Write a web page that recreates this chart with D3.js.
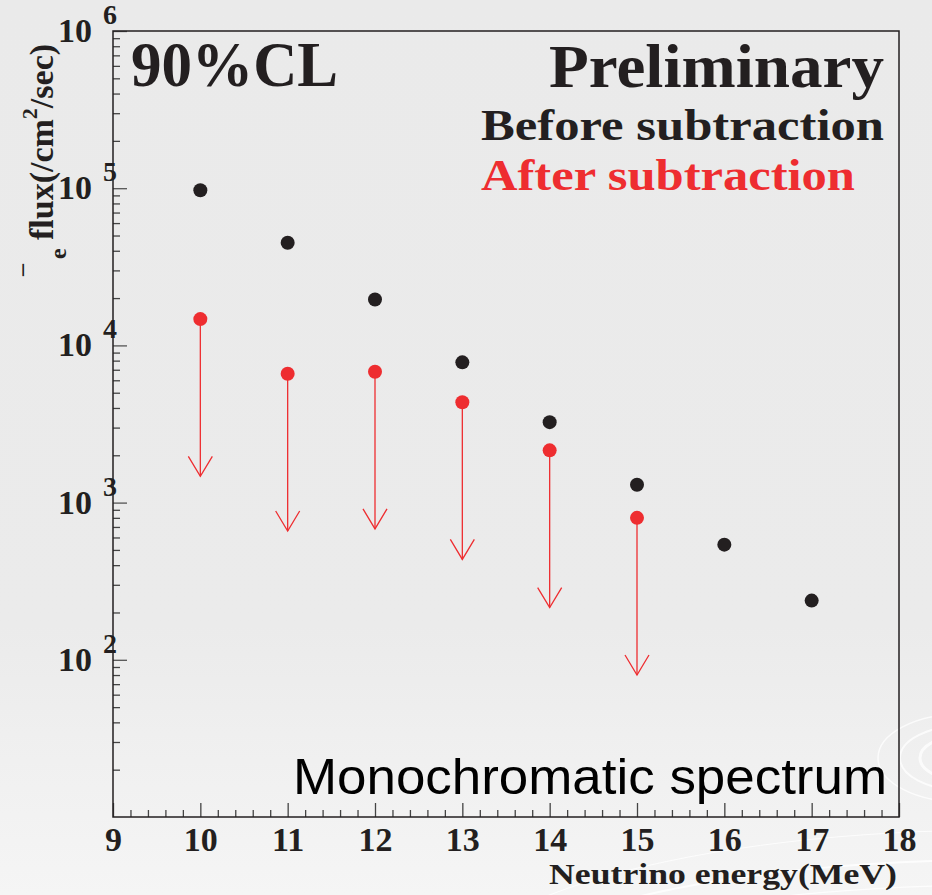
<!DOCTYPE html>
<html>
<head>
<meta charset="utf-8">
<script src="https://cdn.jsdelivr.net/npm/d3@7"></script>
<style>
  body { margin: 0; background: #ebebeb; }
  svg { display: block; }
</style>
</head>
<body>
<svg id="plot" width="932" height="895"></svg>
<script>
// energies of the monochromatic lines (MeV)
const energies = [10, 11, 12, 13, 14, 15, 16, 17];
// 90% CL flux limits before background subtraction
const before_flux = [9.7e4, 4.5e4, 1.96e4, 7.8e3, 3.25e3, 1.3e3, 540, 238];
// after subtraction (only 10..15 MeV), drawn as upper limits
const after_energies = [10, 11, 12, 13, 14, 15];
const after_flux = [1.47e4, 6.6e3, 6.8e3, 4.35e3, 2.15e3, 800];

const x_ticks = d3.range(9, 19);
const y_decades = [1e2, 1e3, 1e4, 1e5, 1e6];

const serif = "'Liberation Serif', 'Times New Roman', serif";
const sans = "'Liberation Sans', Arial, sans-serif";
const ink = "#231f20";
const red = "#ee2d30";

const svg = d3.select("#plot");
const W = 932, H = 895;
const frame = {left: 113, right: 899, top: 31, bottom: 817};

// background with a soft gradient
const defs = svg.append("defs");
const bg_grad = defs.append("linearGradient")
	.attr("id", "bg-grad")
	.attr("x1", "0%").attr("y1", "0%")
	.attr("x2", "0%").attr("y2", "100%");
bg_grad.append("stop").attr("offset", "0%").attr("stop-color", "#eaeaea");
bg_grad.append("stop").attr("offset", "70%").attr("stop-color", "#ebebeb");
bg_grad.append("stop").attr("offset", "100%").attr("stop-color", "#f5f5f5");
svg.append("rect").attr("width", W).attr("height", H).attr("fill", "url(#bg-grad)");

// faint swirl decoration in the corner
const swirl = svg.append("g").attr("fill", "none").attr("stroke", "#ffffff");
[[22, 12, 5], [42, 22, 3], [62, 32, 2], [84, 44, 1.5]].forEach(d => {
	swirl.append("ellipse")
		.attr("cx", 962).attr("cy", 758)
		.attr("rx", d[0]).attr("ry", d[1])
		.attr("stroke-width", d[2]).attr("opacity", 0.75);
});
[[520, 130, 2], [480, 105, 1.2], [560, 160, 1]].forEach(d => {
	swirl.append("ellipse")
		.attr("cx", 1000).attr("cy", 990)
		.attr("rx", d[0]).attr("ry", d[1])
		.attr("stroke-width", d[2]).attr("opacity", 0.8);
});

const x = d3.scaleLinear().domain([9, 18]).range([frame.left, frame.right]);
const y = d3.scaleLog().domain([10, 1e6]).range([frame.bottom, frame.top]);

// x axis ticks (inward)
const x_minor = d3.range(9, 18.001, 0.2).map(v => Math.round(v * 10) / 10)
	.filter(v => Math.abs(v - Math.round(v)) > 1e-6);

svg.append("g")
	.attr("transform", `translate(0,${frame.bottom})`)
	.call(d3.axisBottom(x).tickValues(x_minor).tickSizeInner(-7).tickSizeOuter(0).tickFormat(""))
	.call(g => g.select(".domain").remove())
	.call(g => g.selectAll("line").attr("stroke", "#444").attr("stroke-width", 1.3));

svg.append("g")
	.attr("transform", `translate(0,${frame.bottom})`)
	.call(d3.axisBottom(x).tickValues(x_ticks).tickSizeInner(-14).tickSizeOuter(0).tickPadding(10))
	.call(g => g.select(".domain").remove())
	.call(g => g.selectAll("line").attr("stroke", "#444").attr("stroke-width", 1.3))
	.call(g => g.selectAll("text")
		.attr("fill", ink)
		.style("font-family", serif)
		.style("font-weight", "bold")
		.style("font-size", "34px"));

// y axis ticks (inward)
const y_minor = [];
for (let d = 1; d <= 5; d++)
	for (let k = 2; k <= 9; k++) y_minor.push(k * Math.pow(10, d));

svg.append("g")
	.attr("transform", `translate(${frame.left},0)`)
	.call(d3.axisLeft(y).tickValues(y_minor).tickSizeInner(-7).tickSizeOuter(0).tickFormat(""))
	.call(g => g.select(".domain").remove())
	.call(g => g.selectAll("line").attr("stroke", "#444").attr("stroke-width", 1.3));

svg.append("g")
	.attr("transform", `translate(${frame.left},0)`)
	.call(d3.axisLeft(y).tickValues(y_decades).tickSizeInner(-14).tickSizeOuter(0).tickFormat(""))
	.call(g => g.select(".domain").remove())
	.call(g => g.selectAll("line").attr("stroke", "#555").attr("stroke-width", 1.3));

// y tick labels as 10^n
const y_labels = svg.append("g")
	.attr("fill", ink)
	.style("font-family", serif)
	.style("font-weight", "bold");

y_labels.selectAll("text.base")
	.data(y_decades)
	.join("text")
	.attr("class", "base")
	.attr("x", 92)
	.attr("y", d => y(d) + 11)
	.attr("text-anchor", "end")
	.style("font-size", "34px")
	.text("10");

y_labels.selectAll("text.exp")
	.data(y_decades)
	.join("text")
	.attr("class", "exp")
	.attr("x", 103)
	.attr("y", d => y(d) - 7)
	.style("font-size", "28px")
	.text(d => Math.round(Math.log10(d)));

// frame
svg.append("rect")
	.attr("x", frame.left).attr("y", frame.top)
	.attr("width", frame.right - frame.left)
	.attr("height", frame.bottom - frame.top)
	.attr("fill", "none")
	.attr("stroke", ink)
	.attr("stroke-width", 1.5);

// y axis title (rotated)
const ytitle = svg.append("g")
	.attr("fill", ink)
	.style("font-family", serif)
	.style("font-weight", "bold");

ytitle.append("text")
	.attr("transform", "translate(29,276) rotate(-90)")
	.style("font-size", "24px")
	.text("\u2013");

ytitle.append("text")
	.attr("transform", "translate(66,259) rotate(-90)")
	.style("font-size", "24px")
	.text("e");

const ytext = ytitle.append("text")
	.attr("transform", "translate(53,240) rotate(-90)")
	.style("font-size", "34px");
ytext.append("tspan").text("flux(/cm");
ytext.append("tspan").attr("dy", -16).style("font-size", "22px").text("2");
ytext.append("tspan").attr("dy", 16).text("/sec)");

// upper-limit arrows for "after subtraction"
const after = after_energies.map((e, i) => ({e: e, v: after_flux[i]}));
const arrows = svg.append("g")
	.attr("stroke", red)
	.attr("stroke-width", 1.3)
	.attr("fill", "none");

arrows.selectAll("line")
	.data(after)
	.join("line")
	.attr("x1", d => x(d.e)).attr("x2", d => x(d.e))
	.attr("y1", d => y(d.v)).attr("y2", d => y(d.v / 10));

arrows.selectAll("path")
	.data(after)
	.join("path")
	.attr("d", d => {
		const tx = x(d.e), ty = y(d.v / 10);
		return `M${tx - 12},${ty - 20}L${tx},${ty}L${tx + 12},${ty - 20}`;
	});

// points
svg.append("g")
	.selectAll("circle")
	.data(energies.map((e, i) => ({e: e, v: before_flux[i]})))
	.join("circle")
	.attr("cx", d => x(d.e))
	.attr("cy", d => y(d.v))
	.attr("r", 7)
	.attr("fill", ink);

svg.append("g")
	.selectAll("circle")
	.data(after)
	.join("circle")
	.attr("cx", d => x(d.e))
	.attr("cy", d => y(d.v))
	.attr("r", 7)
	.attr("fill", red);

// annotations
function label(txt, xpos, ypos, size, len, color, family, weight) {
	svg.append("text")
		.attr("x", xpos).attr("y", ypos)
		.attr("fill", color)
		.attr("textLength", len)
		.attr("lengthAdjust", "spacingAndGlyphs")
		.style("font-family", family)
		.style("font-weight", weight)
		.style("font-size", size + "px")
		.text(txt);
}

label("90%CL", 131, 86, 64, 207, ink, serif, "bold");
label("Preliminary", 549, 87, 62, 335, ink, serif, "bold");
label("Before subtraction", 481, 140, 45, 403, ink, serif, "bold");
label("After subtraction", 481, 190, 45, 374, red, serif, "bold");
label("Monochromatic spectrum", 293, 794, 50, 594, "#000", sans, "normal");
label("Neutrino energy(MeV)", 549, 884, 29, 348, ink, serif, "bold");
</script>
</body>
</html>
